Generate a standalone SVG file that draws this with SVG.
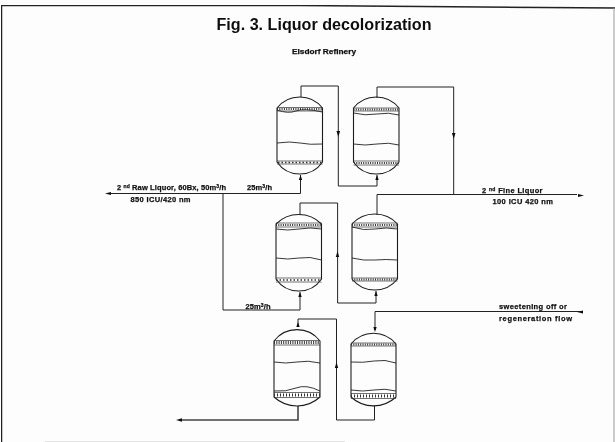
<svg xmlns="http://www.w3.org/2000/svg" width="615" height="442" viewBox="0 0 615 442">
<style>
.l{fill:none;stroke:#222;stroke-width:1}
.t{fill:none;stroke:#1c1c1c;stroke-width:1.1}
.h{fill:none;stroke:#333;stroke-width:.7}
.d{fill:none;stroke:#333;stroke-width:2;stroke-dasharray:1 1.300}
.w{fill:none;stroke:#222;stroke-width:.9}
.a{fill:#111}
text{font-family:"Liberation Sans",Arial,sans-serif;font-weight:bold;fill:#111}
.s{font-size:7.500px;stroke:#111;stroke-width:.25}
.u{font-size:5px}
</style>
<defs><filter id="scan" x="0" y="0" width="100%" height="100%"><feGaussianBlur stdDeviation="0.4"/></filter></defs>
<rect width="615" height="442" fill="#fdfdfd"/>
<g filter="url(#scan)">
<path d="M1.500 442V5.500H300L615 8" fill="none" stroke="#222" stroke-width="1.500"/>
<path d="M614 8V442" fill="none" stroke="#999" stroke-width="1"/>
<path d="M45 441.500H345" fill="none" stroke="#e4e4e4" stroke-width="1"/>
<text id="title" x="216.500" y="30" font-size="16" textLength="215" lengthAdjust="spacingAndGlyphs">Fig. 3. Liquor decolorization</text>
<text id="subtitle" class="s" x="292" y="54" textLength="64" lengthAdjust="spacingAndGlyphs">Elsdorf Refinery</text>
<g id="connectors">
<path class="l" d="M301 97V86H338.300V186H377V175"/>
<path class="l" d="M377 98V87H453.700V194"/>
<path class="l" d="M110 193.500H300.500V175"/>
<path class="l" d="M223 193.500V310H300V292"/>
<path class="l" d="M377 215V194.500H577"/>
<path class="l" d="M300 215V203H337.600V303H376V291"/>
<path class="l" d="M582 311.500H375V330"/>
<path class="l" d="M298 325V319H336.500V420H374.500V406"/>
<path d="M298 406V420H180" fill="none" stroke="#444" stroke-width="1.600"/>
<path class="a" d="M300.500 175l-1.700 5h3.400zM377 175l-1.700 5h3.400zM338.300 137l-1.800-6h3.600zM453.700 139l-1.800-6h3.600zM300 292l-1.700 5h3.400zM376 291l-1.700 5h3.400zM337.500 251l-1.700 6h3.400zM336.500 362l-1.700 6h3.400zM298 322l-1.700 5h3.400zM375 332l-1.700-5h3.400zM105 193.500l6-1.500v3zM584 195.500l-6-1.500v3zM577 312l6-1.400v2.800zM176 420l6-1.800v3.600z"/>
</g>
<g id="vessel-1">
<path class="t" d="M277 108A29 29 0 0 1 322.500 108V162A27.500 27.500 0 0 1 277 162Z"/>
<path class="h" d="M277 107.500H322.500M277 111H322.500M277 161H322.500M277 164H322.500"/>
<path class="d" d="M277 109H322.500"/><path class="d" d="M278 162.500H322" style="stroke-width:1.300;stroke-dasharray:1.500 2"/>
<path class="w" d="M277 110Q288 114 296 111T322.500 112M277 143Q290 141 300 143T322.500 144"/>
</g>
<g id="vessel-2">
<path class="t" d="M353.500 108A29 29 0 0 1 399 108V162A27.500 27.500 0 0 1 353.500 162Z"/>
<path class="h" d="M353.500 108H399M353.500 111H399M353.500 161H399M353.500 165H399"/>
<path class="d" d="M353.500 109.500H399"/><path class="d" d="M354 163H399"/>
<path class="w" d="M353.500 113Q365 116 377 114T399 115M353.500 144Q365 146 377 144T399 145"/>
</g>
<g id="vessel-3">
<path class="t" d="M276 224A32 32 0 0 1 321.500 224V279A27.500 27.500 0 0 1 276 279Z"/>
<path class="h" d="M276 223H321.500M276 227H321.500M276 278H321.500M276 282H321.500"/>
<path class="d" d="M276 225H321.500"/><path class="d" d="M276 280H321.500" style="stroke-width:1.300;stroke-dasharray:1.500 2"/>
<path class="w" d="M276 229Q288 231 299 229T321.500 229M276 258Q288 260 299 258T321.500 260"/>
</g>
<g id="vessel-4">
<path class="t" d="M352 224A31 31 0 0 1 397.500 224V279A29 29 0 0 1 352 279Z"/>
<path class="h" d="M352 223H397.500M352 227H397.500M352 278H397.500M352 281H397.500"/>
<path class="d" d="M352 225H397.500"/><path class="d" d="M352 279.500H397.500"/>
<path class="w" d="M352 227Q364 231 375 229T397.500 229M352 258Q364 261 375 260T397.500 260"/>
</g>
<g id="vessel-5">
<path class="t" d="M274 341A29 29 0 0 1 320 341V397A34 34 0 0 1 274 397Z"/>
<path class="h" d="M274 340.500H320M274 345H320M274 392.500H320M274 397.500H320"/>
<path class="d" d="M274 342.500H320" style="stroke-width:3"/><path class="d" d="M274 395H320" style="stroke-width:3;stroke-dasharray:1 2"/>
<path class="w" d="M274 362Q286 364 297 362T320 363M274 391Q286 392 296 388T320 391"/>
</g>
<g id="vessel-6">
<path class="t" d="M351 344A29 29 0 0 1 396 344V397A33 33 0 0 1 351 397Z"/>
<path class="h" d="M351 343H396M351 346H396M351 393.500H396M351 398.500H396"/>
<path class="d" d="M351 344.500H396"/><path class="d" d="M351 396H396" style="stroke-width:3;stroke-dasharray:1 2"/>
<path class="w" d="M351 362Q363 363 374 361T396 363M351 390Q363 392 374 390T396 391"/>
</g>
<g id="labels">
<text class="s" x="117" y="189.500" textLength="109" lengthAdjust="spacing">2 <tspan class="u" dy="-2">nd</tspan><tspan dy="2"> Raw Liquor, 60Bx, 50m</tspan><tspan class="u" dy="-2">3</tspan><tspan dy="2">/h</tspan></text>
<text class="s" x="130.500" y="202" textLength="60" lengthAdjust="spacing">850 ICU/420 nm</text>
<text class="s" x="247" y="189.500" textLength="25" lengthAdjust="spacing">25m<tspan class="u" dy="-2">3</tspan><tspan dy="2">/h</tspan></text>
<text class="s" x="245.500" y="309" textLength="25" lengthAdjust="spacing">25m<tspan class="u" dy="-2">3</tspan><tspan dy="2">/h</tspan></text>
<text class="s" x="482" y="192.500" textLength="60.500" lengthAdjust="spacing">2 <tspan class="u" dy="-2">nd</tspan><tspan dy="2"> Fine Liquor</tspan></text>
<text class="s" x="492.500" y="203.500" textLength="60.500" lengthAdjust="spacing">100 ICU  420 nm</text>
<text class="s" x="499" y="309" textLength="68" lengthAdjust="spacing">sweetening off or</text>
<text class="s" x="499" y="320.500" textLength="73" lengthAdjust="spacing">regeneration flow</text>
</g>
</g>
</svg>
